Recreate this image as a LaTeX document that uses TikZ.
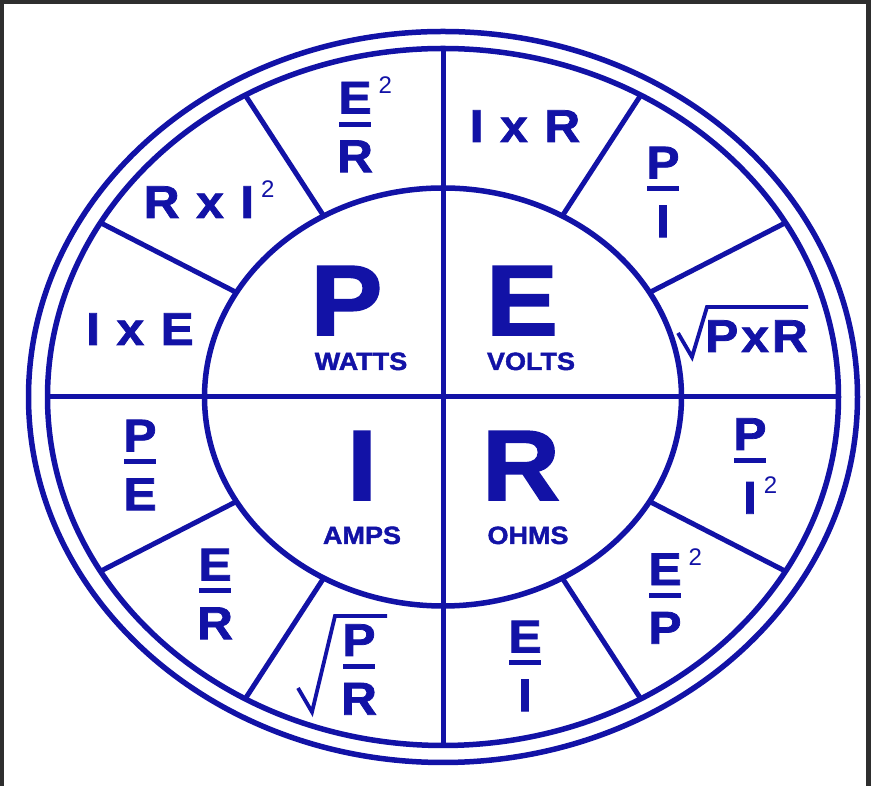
\documentclass[tikz,border=0pt]{standalone}
\usepackage{fontspec}
\setmainfont{Liberation Sans}[BoldFeatures={FakeBold=1.6,FakeStretch=1.08}]
\usepackage{tikz}
\usetikzlibrary{calc}
\definecolor{cRing}{HTML}{1212A6}
\definecolor{cFrame}{HTML}{2E2E2E}
% stacked fraction: numerator, bar, denominator
\newcommand\frc[2]{\vbox{\offinterlineskip\tabskip=0pt\halign{\hfil##\hfil\cr #1\cr\noalign{\kern8pt}\rule{0.68em}{5pt}\cr\noalign{\kern14pt}#2\cr}}}
% thin squared mark hanging right of a letter
\newcommand\sqd{\rlap{\hspace{7pt}\raisebox{20pt}{\fontsize{24}{24}\selectfont\mdseries 2}}}
\newcommand\tms{\hspace{0.36em}x\hspace{0.36em}}
\tikzset{
  ring/.style={draw=cRing,line width=5.5pt},
  divider/.style={draw=cRing,line width=5pt},
  bigsym/.style={font=\fontsize{100}{100}\selectfont\bfseries,text=cRing,inner sep=0pt,anchor=base,text depth=0pt},
  unit/.style={font=\fontsize{25}{25}\selectfont\bfseries,text=cRing,inner sep=0pt,anchor=base},
  frm/.style={font=\fontsize{46}{50}\selectfont\bfseries,text=cRing,inner sep=0pt},
  rad/.style={draw=cRing,line width=3.8pt,line join=miter},
}
\begin{document}
\begin{tikzpicture}[x=1pt,y=1pt]
  \useasboundingbox (0,0) rectangle (871,786);
  \fill[white] (0,0) rectangle (871,786);
  \fill[cFrame] (0,782) rectangle (871,786);
  \fill[cFrame] (0,0) rectangle (4,786);
  \fill[cFrame] (866,0) rectangle (871,786);
  \coordinate (c) at (443,389);
  % rings and centre
  \draw[ring] (c) ellipse [x radius=414.5, y radius=365.5];
  \draw[ring] (c) ellipse [x radius=395.5, y radius=348.5];
  \draw[ring] (c) ellipse [x radius=238.5, y radius=209];
  \draw[divider] ($(c)+(0,348.5)$) -- ($(c)+(0,-348.5)$);
  \draw[divider] ($(c)+(-395.5,0)$) -- ($(c)+(395.5,0)$);
  \foreach \a in {30,60,120,150,210,240,300,330}
    \draw[divider] ($(c)+(\a:238.5 and 209)$) -- ($(c)+(\a:395.5 and 348.5)$);
  % quantities
  \node[bigsym] (pP) at (346.5,451) {P};
  \node[bigsym] (pE) at (522,451) {E};
  \node[bigsym] (pI) at (362,286) {I};
  \node[bigsym] (pR) at (521,286) {R};
  \node[unit] (uW) at (361,416) {WATTS};
  \node[unit] (uV) at (531,416) {VOLTS};
  \node[unit] (uA) at (362,242) {AMPS};
  \node[unit] (uO) at (528,242) {OHMS};
  % formulas round the ring
  \node[frm] (fEsqR) at (355,661.5) {\frc{E\sqd}{R}};
  \node[frm,anchor=base] (fIR) at (525,644) {I\tms R};
  \node[frm,anchor=base] (fRI) at (199,568) {R\tms I\sqd};
  \node[frm] (fPI) at (663,594) {\frc{P}{I}};
  \node[frm,anchor=base] (fIE) at (140,441) {I\tms E};
  \node[frm,anchor=base west] (fPxR) at (705,434) {P\kern3pt x\kern3pt R};
  \draw[rad] ([shift={(-27pt,19pt)}]fPxR.base west) -- ([shift={(-13pt,-5pt)}]fPxR.base west)
    -- ([shift={(2pt,45pt)}]fPxR.base west) -- ([shift={(0pt,45pt)}]fPxR.base east);
  \node[frm] (fPE) at (140,321) {\frc{P}{E}};
  \node[frm] (fPIsq) at (750,320) {\frc{P}{I\sqd}};
  \node[frm] (fER) at (215,192) {\frc{E}{R}};
  \node[frm] (fEsqP) at (665,190) {\frc{E\sqd}{P}};
  \node[frm] (fPR) at (359,116.5) {\frc{P}{R}};
  \draw[rad] ([shift={(-61pt,-18.5pt)}]fPR.center) -- ([shift={(-47pt,-42.5pt)}]fPR.center)
    -- ([shift={(-24pt,53.5pt)}]fPR.center) -- ([shift={(28pt,53.5pt)}]fPR.center);
  \node[frm] (fEI) at (525,120) {\frc{E}{I}};
\end{tikzpicture}
\end{document}
